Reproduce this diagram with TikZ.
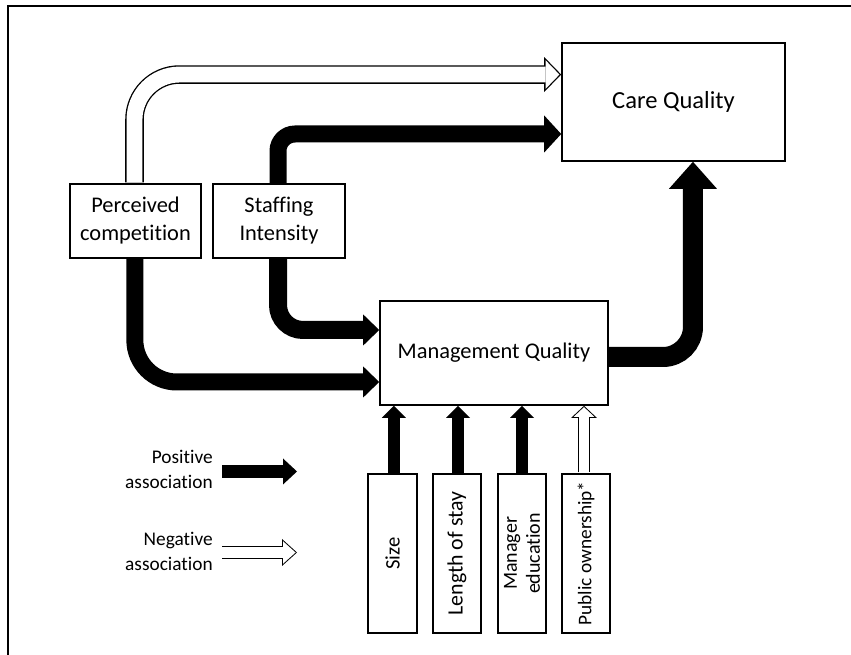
\documentclass[tikz,border=0pt]{standalone}
\usepackage{fontspec}
\setmainfont{Carlito}[Ligatures=NoCommon]
\usepackage{tikz}
\usetikzlibrary{arrows.meta}

\tikzset{
  box/.style={draw, line width=1.2pt, fill=white, inner sep=0pt, align=center,
    font=\fontsize{16.8}{21}\selectfont},
  legend/.style={anchor=east, inner sep=0pt, align=right,
    font=\fontsize{14.5}{18.75}\selectfont},
  % filled black block arrow: shaft width, head width, head length
  pos/.style n args={3}{line width=#1, -{Triangle[width=#2, length=#3, line width=0pt]}},
  % outlined block arrows (black block with a white one inside)
  negtop/.style={line width=13.9pt, -{Triangle[width=26.25pt, length=12.75pt, line width=0pt]},
    shorten <=0.6pt,
    postaction={draw=white, line width=11.9pt,
      -{Triangle[width=21.5pt, length=10.4pt, line width=0pt]}, shorten >=1.35pt}},
  negsmall/.style={line width=9pt, -{Triangle[width=19.2pt, length=9pt, line width=0pt]},
    shorten <=0.6pt,
    postaction={draw=white, line width=7.5pt,
      -{Triangle[width=15.4pt, length=7.2pt, line width=0pt]}, shorten >=1.03pt}},
  negkey/.style={line width=9.75pt, -{Triangle[width=20.25pt, length=11.25pt, line width=0pt]},
    postaction={draw=white, line width=8.25pt,
      -{Triangle[width=16.9pt, length=9.4pt, line width=0pt]}, shorten >=1.1pt}},
}

\begin{document}
\begin{tikzpicture}[x=0.75pt, y=-0.75pt]
	\useasboundingbox (0,0) rectangle (851,655);

	% Frame
	\draw[line width=1.5pt] (8,655) -- (8,6) -- (851,6);

	% Boxes
	\node[box, minimum width=98.25pt, minimum height=55.5pt] (pc) at (135.5,221) {Perceived\\competition};
	\node[box, minimum width=99pt, minimum height=55.5pt] (st) at (279,221) {Staffing\\Intensity};
	\node[box, minimum width=167.25pt, minimum height=88.5pt, font=\fontsize{18.4}{22}\selectfont] (cq) at (673.5,102) {Care Quality};
	\node[box, minimum width=171pt, minimum height=78pt] (mq) at (494,353) {Management Quality};

	% Factors below (rotated, so east is the top side)
	\node[box, rotate=90, minimum width=119.25pt, minimum height=36.4pt, font=\fontsize{15.5}{17}\selectfont] (sz) at (392.5,553.5) {Size};
	\node[box, rotate=90, minimum width=119.25pt, minimum height=36.4pt, font=\fontsize{16.4}{17}\selectfont] (los) at (457,553.5) {Length of stay};
	\node[box, rotate=90, minimum width=119.25pt, minimum height=36.4pt, font=\fontsize{15}{17.25}\selectfont] (me) at (522,553.5) {Manager\\education};
	\node[box, rotate=90, minimum width=119.25pt, minimum height=36.4pt, font=\fontsize{14.5}{17}\selectfont] (po) at (586,553.5) {Public ownership*};

	% Arrows into care quality
	\draw[negtop, rounded corners=33.75pt] ([xshift=-0.75pt]pc.north) |- ([yshift=20.6pt]cq.west);
	\draw[pos={12.75pt}{27.75pt}{12.75pt}, rounded corners=12.75pt] ([xshift=-0.75pt]st.north) |- ([yshift=-24pt]cq.west);
	\draw[pos={15pt}{36pt}{20.25pt}, rounded corners=22.5pt] ([yshift=-3pt]mq.east) -| ([xshift=14.6pt]cq.south);

	% Arrows into management quality
	\draw[pos={13.5pt}{23.25pt}{12pt}, rounded corners=18.75pt] ([xshift=-0.75pt]st.south) |- ([yshift=17.25pt]mq.west);
	\draw[pos={12.75pt}{23.25pt}{12pt}, rounded corners=31.5pt] ([xshift=-0.5pt]pc.south) |- ([yshift=-21.75pt]mq.west);
	\draw[pos={9pt}{18pt}{9pt}] ([xshift=1pt]sz.east) -- ([xshift=1pt]sz.east |- mq.south);
	\draw[pos={9pt}{18pt}{9pt}] ([xshift=0.75pt]los.east) -- ([xshift=0.75pt]los.east |- mq.south);
	\draw[pos={9pt}{18pt}{9pt}] (me.east) -- (me.east |- mq.south);
	\draw[negsmall] ([xshift=-1.5pt]po.east) -- ([xshift=-1.5pt]po.east |- mq.south);

	% Legend
	\node[legend] (lpos) at (213,469.5) {Positive\\association};
	\node[legend] (lneg) at (213,551) {Negative\\association};
	\coordinate (posA) at (222,471.5);
	\coordinate (posB) at (297,471.5);
	\coordinate (negA) at (222,552.5);
	\coordinate (negB) at (297,552.5);
	\draw[pos={9.75pt}{19.5pt}{10.5pt}] (posA) -- (posB);
	\draw[negkey] (negA) -- (negB);
\end{tikzpicture}
\end{document}
